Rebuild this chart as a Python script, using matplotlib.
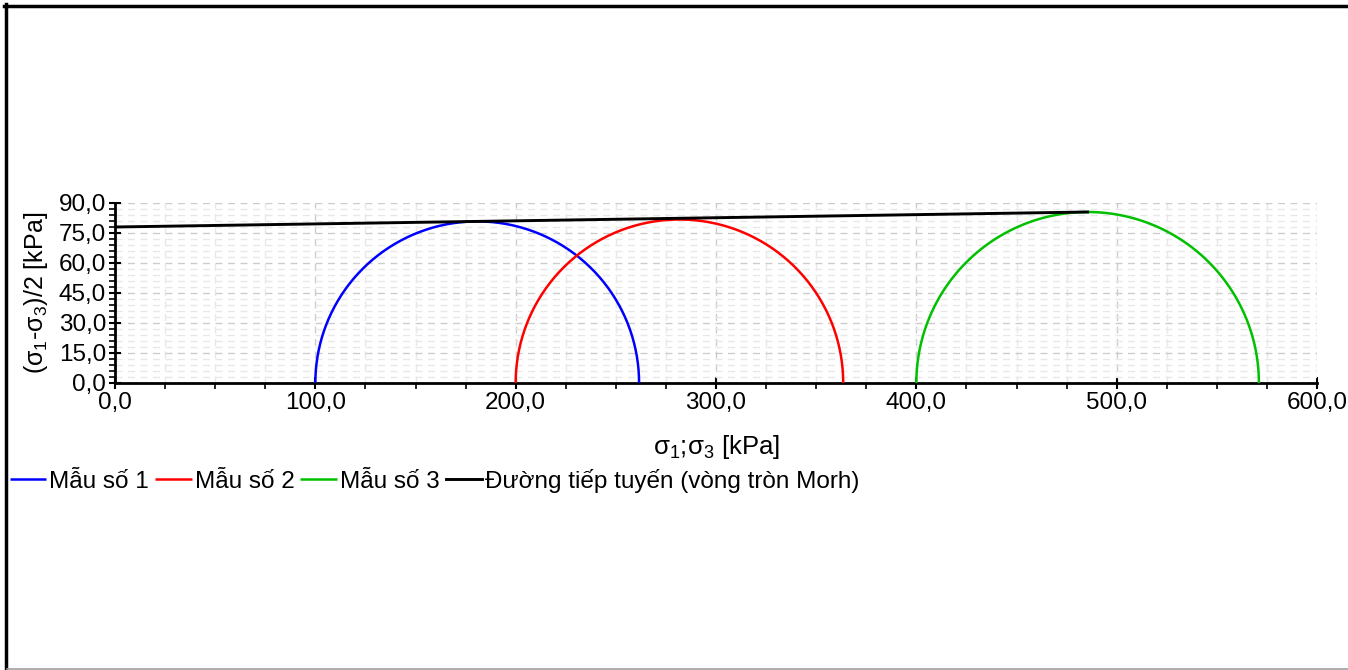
import numpy as np
import matplotlib
matplotlib.use("Agg")
import matplotlib.pyplot as plt
from matplotlib.lines import Line2D
from matplotlib.ticker import MultipleLocator, FuncFormatter

# ---- dữ liệu ----
labels = ["Mẫu số 1", "Mẫu số 2", "Mẫu số 3"]
sigma3 = [100.0, 200.0, 400.0]
sigma1 = [261.6, 363.5, 571.0]
colors = ["#0000ff", "#ff0000", "#00c000"]

tangent_label = "Đường tiếp tuyến (vòng tròn Morh)"
tangent_x = [0.0, 485.5]
tangent_y = [78.0, 85.5]

plt.rcParams["font.family"] = ["Liberation Sans", "DejaVu Sans"]
plt.rcParams["mathtext.fontset"] = "custom"
plt.rcParams["mathtext.rm"] = "Liberation Sans"

fig = plt.figure(figsize=(13.48, 6.70), dpi=100)
ax = fig.add_axes([115 / 1348, 1 - 383 / 670, 1202 / 1348, 180 / 670])

handles = []
for lab, s3, s1, c in zip(labels, sigma3, sigma1, colors):
    center = (s1 + s3) / 2
    r = (s1 - s3) / 2
    t = np.linspace(0, np.pi, 300)
    ln, = ax.plot(center + r * np.cos(t), r * np.sin(t), color=c, lw=1.8, label=lab,
                  solid_capstyle="butt", zorder=3)
    handles.append(ln)
ln, = ax.plot(tangent_x, tangent_y, color="black", lw=2.1, label=tangent_label, zorder=4)
handles.append(ln)

ax.set_xlim(0, 600)
ax.set_ylim(0, 90)
ax.xaxis.set_major_locator(MultipleLocator(100))
ax.xaxis.set_minor_locator(MultipleLocator(25))
ax.yaxis.set_major_locator(MultipleLocator(15))
ax.yaxis.set_minor_locator(MultipleLocator(3))
fmt = FuncFormatter(lambda v, p: f"{v:.1f}".replace(".", ","))
ax.xaxis.set_major_formatter(fmt)
ax.yaxis.set_major_formatter(fmt)

ax.grid(True, which="major", color="#cccccc", linestyle=(0, (5, 4)), lw=1.0)
ax.grid(True, which="minor", color="#e8e8e8", linestyle=(0, (5, 4)), lw=1.0)
ax.set_axisbelow(True)

for s in ["top", "right"]:
    ax.spines[s].set_visible(False)
for s in ["left", "bottom"]:
    ax.spines[s].set_linewidth(2)
ax.tick_params(which="major", direction="inout", length=9, width=1.5, labelsize=17.5, pad=2)
ax.tick_params(which="minor", direction="out", length=4, width=1.2)

ax.set_xlabel(r"σ$\mathregular{_1}$;σ$\mathregular{_3}$ [kPa]", fontsize=18.5, labelpad=14)
ax.set_ylabel(r"(σ$\mathregular{_1}$-σ$\mathregular{_3}$)/2 [kPa]", fontsize=18, labelpad=6)

fig.legend(handles=handles, loc="upper left", bbox_to_anchor=(10 / 1348, 1 - 469 / 670),
           ncol=4, frameon=False, fontsize=17.5, handlelength=1.5, handletextpad=0.12,
           columnspacing=0.25, borderaxespad=0, borderpad=0)

# khung viền
fig.add_artist(Line2D([5.5 / 1348, 5.5 / 1348], [0, 1 - 4 / 670], transform=fig.transFigure,
                      color="black", lw=2.5))
fig.add_artist(Line2D([4 / 1348, 1], [1 - 5.5 / 670, 1 - 5.5 / 670], transform=fig.transFigure,
                      color="black", lw=2.5))
fig.add_artist(Line2D([7 / 1348, 1], [1.2 / 670, 1.2 / 670], transform=fig.transFigure,
                      color="#a0a0a0", lw=1.2))

fig.savefig("out.png", dpi=100)
